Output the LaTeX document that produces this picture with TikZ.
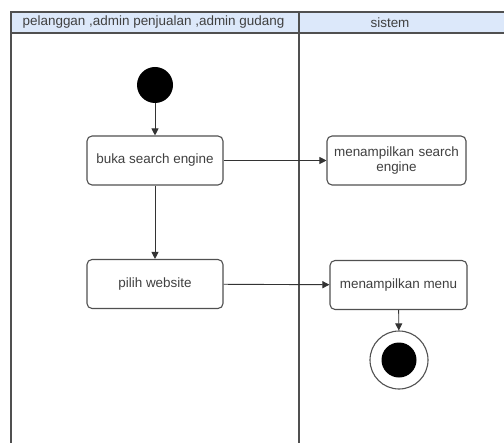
\documentclass[tikz,border=0pt]{standalone}
\usepackage{fontspec}
\setmainfont{Liberation Sans}
\usetikzlibrary{arrows.meta}
\definecolor{hdr}{RGB}{220,232,250}
\definecolor{ln}{RGB}{80,80,80}
\tikzset{
  act/.style={draw=ln, line width=1.1pt, rounded corners=5bp, fill=white, minimum width=136bp, minimum height=49bp, align=center, font=\fontsize{13.5}{16}\selectfont, text=black!75, inner sep=2bp},
  lanetext/.style={font=\fontsize{13.5}{16}\selectfont, text=black!75, inner sep=0},
  flow/.style={draw=black!80, line width=0.9pt, -{Triangle[length=7bp,width=7bp]}},
  lane/.style={draw=ln, line width=1.1pt}
}
\begin{document}
\begin{tikzpicture}[x=1bp,y=-1bp]
\useasboundingbox (0,0) rectangle (504,443);
% header
\fill[hdr] (11,12) rectangle (504,33);
\draw[lane] (504,12) -- (11,12) -- (11,443);
\draw[lane] (11,33) -- (504,33);
\draw[lane] (299,12) -- (299,443);
\node[lanetext] (h1) at (153.5,22.5) {pelanggan ,admin penjualan ,admin gudang};
\node[lanetext] (h2) at (390,22.5) {sistem};
% nodes
\node[circle, fill=black, minimum size=36bp, inner sep=0] (start) at (155,85) {};
\node[act] (buka) at (155,160.5) {buka search engine};
\node[act] (pilih) at (155,284) {pilih website};
\node[act, minimum width=139bp, text width=130bp] (tse) at (396.5,160.5) {menampilkan search\\engine};
\node[act, minimum width=137bp] (menu) at (398.5,285) {menampilkan menu};
\node[circle, draw=ln, line width=1.1pt, minimum size=58bp, inner sep=0] (endo) at (399,360) {};
\node[circle, fill=black, minimum size=35bp, inner sep=0] (endi) at (endo) {};
% flows
\draw[flow] (start) -- (buka);
\draw[flow] (buka) -- (pilih);
\draw[flow] (buka) -- (tse);
\draw[flow] (pilih) -- (menu);
\draw[flow] (menu) -- (endo);
\end{tikzpicture}
\end{document}
